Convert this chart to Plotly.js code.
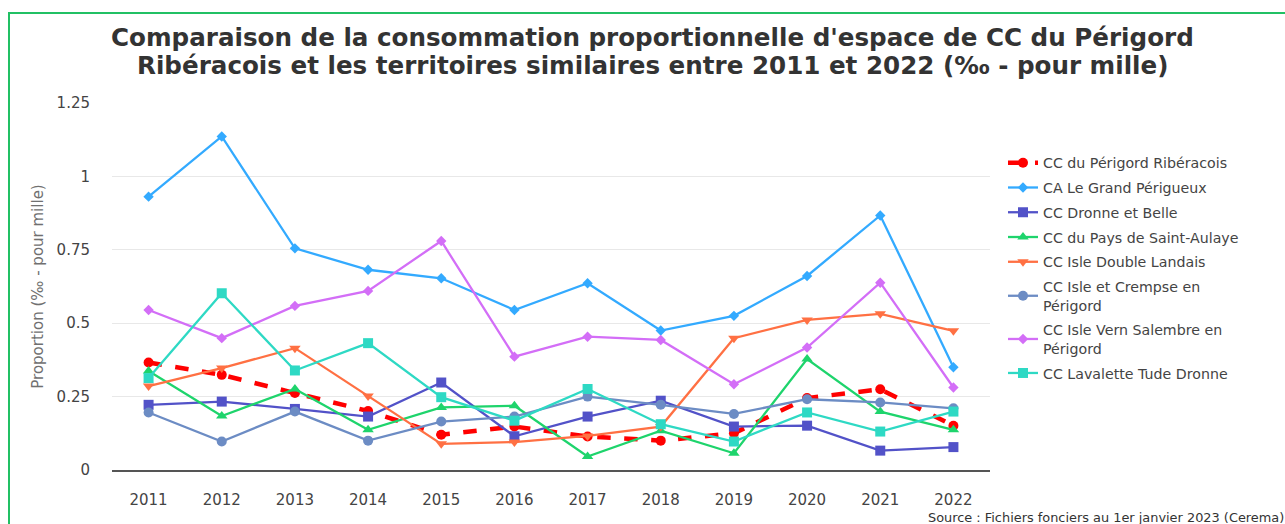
<!DOCTYPE html>
<html>
<head>
<meta charset="utf-8">
<script src="https://cdn.plot.ly/plotly-3.0.1.min.js"></script>
<style>
  html, body { margin:0; padding:0; background:#fff; overflow:hidden; }
  #frame { position:absolute; left:8px; top:12px; width:1400px; height:600px; border-left:2px solid #21c064; border-top:2px solid #21c064; pointer-events:none; z-index:5; }
  #chart { width:1285px; height:524px; }
</style>
</head>
<body>
<div id="frame"></div>
<div id="chart"></div>
<script>
const years = ["2011","2012","2013","2014","2015","2016","2017","2018","2019","2020","2021","2022"];
const yTickVals = [0, 0.25, 0.5, 0.75, 1, 1.25];
const yTickText = ["0", "0.25", "0.5", "0.75", "1", "1.25"];

const titleLines = [
  "Comparaison de la consommation proportionnelle d'espace de CC du Périgord",
  "Ribéracois et les territoires similaires entre 2011 et 2022 (‰ - pour mille)"
];

const names = [
  "CC du Périgord Ribéracois",
  "CA Le Grand Périgueux",
  "CC Dronne et Belle",
  "CC du Pays de Saint-Aulaye",
  "CC Isle Double Landais",
  "CC Isle et Crempse en<br>Périgord",
  "CC Isle Vern Salembre en<br>Périgord",
  "CC Lavalette Tude Dronne"
];

const riberacois   = [0.366, 0.324, 0.262, 0.201, 0.120, 0.148, 0.114, 0.100, 0.125, 0.245, 0.275, 0.151];
const grandPerigueux = [0.931, 1.136, 0.755, 0.682, 0.653, 0.545, 0.636, 0.475, 0.525, 0.661, 0.867, 0.350];
const dronneBelle  = [0.222, 0.233, 0.208, 0.182, 0.298, 0.115, 0.182, 0.236, 0.148, 0.151, 0.066, 0.078];
const saintAulaye  = [0.337, 0.184, 0.276, 0.137, 0.213, 0.219, 0.046, 0.134, 0.057, 0.378, 0.199, 0.137];
const doubleLandais = [0.286, 0.347, 0.415, 0.252, 0.089, 0.095, 0.116, 0.148, 0.449, 0.511, 0.532, 0.474];
const isleCrempse  = [0.196, 0.097, 0.199, 0.100, 0.165, 0.182, 0.250, 0.222, 0.191, 0.241, 0.230, 0.210];
const vernSalembre = [0.545, 0.449, 0.559, 0.610, 0.780, 0.386, 0.454, 0.443, 0.292, 0.417, 0.638, 0.281];
const lavalette    = [0.313, 0.602, 0.339, 0.432, 0.248, 0.168, 0.276, 0.156, 0.097, 0.196, 0.131, 0.199];

const series = [riberacois, grandPerigueux, dronneBelle, saintAulaye, doubleLandais, isleCrempse, vernSalembre, lavalette];
const colors = ["#ff0000", "#33aaff", "#5252c8", "#1ed46c", "#ff7043", "#6c8cc4", "#d36ef7", "#2ed9c4"];
const symbols = ["circle", "diamond", "square", "triangle-up", "triangle-down", "circle", "diamond", "square"];
const sizes = [10, 8, 10, 10, 10, 10, 8, 10];

const traces = series.map((vals, i) => ({
  type: "scatter",
  mode: "lines+markers",
  x: years,
  y: vals,
  name: names[i],
  legendgroup: "g" + i,
  line: { color: colors[i], width: i === 0 ? 4.5 : 2.3, dash: i === 0 ? "dash" : "solid" },
  marker: { color: colors[i], symbol: symbols[i], size: sizes[i] }
}));

// plot area: x 112..990, y 103..470 (px)
const px = v => (v - 112) / 878;
const py = v => (470 - v) / 367;

const titleFont = { family: "DejaVu Sans", size: 24.6, color: "#333333", weight: "bold" };

const layout = {
  width: 1285,
  height: 524,
  paper_bgcolor: "#ffffff",
  plot_bgcolor: "#ffffff",
  font: { family: "DejaVu Sans", color: "#444", size: 15 },
  margin: { l: 112, r: 295, t: 103, b: 54 },
  xaxis: {
    type: "category",
    range: [-0.5, 11.5],
    showgrid: false,
    showline: true,
    linecolor: "#555",
    linewidth: 1.5,
    ticks: "",
    ticklabelstandoff: 15,
    tickfont: { size: 15, color: "#444" },
    fixedrange: true
  },
  yaxis: {
    range: [0, 1.25],
    tickvals: yTickVals,
    ticktext: yTickText,
    showgrid: true,
    gridcolor: "#e8e8e8",
    gridwidth: 1.3,
    zeroline: false,
    showline: false,
    ticks: "",
    ticklabelstandoff: 21,
    tickfont: { size: 15, color: "#444" },
    title: { text: "Proportion (‰ - pour mille)", font: { size: 15, color: "#707070" }, standoff: 9 },
    automargin: false,
    fixedrange: true
  },
  showlegend: true,
  legend: {
    x: 1003 / 1285, xref: "container", xanchor: "left",
    y: 1 - 147 / 524, yref: "container", yanchor: "top",
    font: { size: 14.2, color: "#444" },
    bgcolor: "rgba(0,0,0,0)",
    traceorder: "grouped",
    tracegroupgap: 3.3
  },
  annotations: [
    {
      text: titleLines[0], xref: "paper", yref: "paper",
      x: px(652.5), xanchor: "center", y: py(37), yanchor: "middle",
      showarrow: false, font: titleFont
    },
    {
      text: titleLines[1], xref: "paper", yref: "paper",
      x: px(652.5), xanchor: "center", y: py(65), yanchor: "middle",
      showarrow: false, font: titleFont
    },
    {
      text: "Source : Fichiers fonciers au 1er janvier 2023 (Cerema)",
      xref: "paper", yref: "paper",
      x: px(1286), xanchor: "right",
      y: -0.13, yanchor: "middle",
      showarrow: false,
      font: { size: 12.9, color: "#333" }
    }
  ]
};

Plotly.newPlot("chart", traces, layout, { displayModeBar: false, staticPlot: true });
</script>
</body>
</html>
